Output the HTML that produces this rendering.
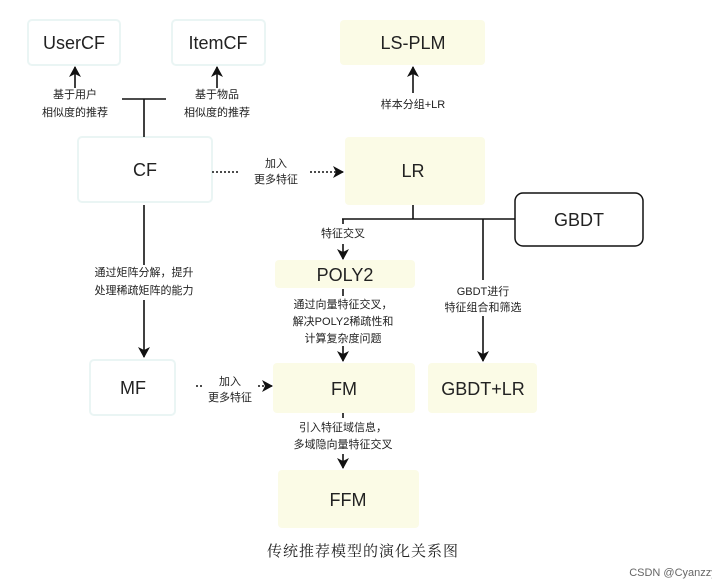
<!DOCTYPE html>
<html><head><meta charset="utf-8"><style>
body{margin:0;background:#fff;}
svg{display:block;font-family:"Liberation Sans","Noto Sans CJK SC",sans-serif;}
</style></head><body>
<svg width="712" height="588" viewBox="0 0 712 588" xmlns="http://www.w3.org/2000/svg">
<defs><marker id="a" markerWidth="12" markerHeight="12" refX="10" refY="6" orient="auto" markerUnits="userSpaceOnUse"><path d="M0,0 L11,6 L0,12 L3,6 Z" fill="#111"/></marker></defs>
<rect width="712" height="588" fill="#fff"/>
<g fill="#fff" stroke="#eaf5f4" stroke-width="2">
<rect x="28" y="20" width="92" height="45" rx="4"/>
<rect x="172" y="20" width="93" height="45" rx="4"/>
<rect x="78" y="137" width="134" height="65" rx="4"/>
<rect x="90" y="360" width="85" height="55" rx="4"/>
</g>
<g fill="#fbfbe6">
<rect x="340" y="20" width="145" height="45" rx="4"/>
<rect x="345" y="137" width="140" height="68" rx="4"/>
<rect x="275" y="260" width="140" height="28" rx="4"/>
<rect x="273" y="363" width="142" height="50" rx="4"/>
<rect x="428" y="363" width="109" height="50" rx="4"/>
<rect x="278" y="470" width="141" height="58" rx="4"/>
</g>
<rect x="515" y="193" width="128" height="53" rx="8" fill="#fff" stroke="#111" stroke-width="1.5"/>
<g font-size="18" fill="#222" text-anchor="middle">
<text x="74" y="49">UserCF</text>
<text x="218" y="49">ItemCF</text>
<text x="413" y="49">LS-PLM</text>
<text x="145" y="176">CF</text>
<text x="413" y="177">LR</text>
<text x="579" y="226">GBDT</text>
<text x="345" y="281">POLY2</text>
<text x="133" y="394">MF</text>
<text x="344" y="395">FM</text>
<text x="483" y="395">GBDT+LR</text>
<text x="348" y="506">FFM</text>
</g>
<g stroke="#111" stroke-width="1.6" fill="none">
<line x1="75" y1="88" x2="75" y2="67" marker-end="url(#a)"/>
<line x1="217" y1="88" x2="217" y2="67" marker-end="url(#a)"/>
<line x1="122" y1="99" x2="166" y2="99"/>
<line x1="144" y1="99" x2="144" y2="137"/>
<line x1="413" y1="93" x2="413" y2="67" marker-end="url(#a)"/>
<line x1="413" y1="205" x2="413" y2="219"/>
<line x1="342" y1="219" x2="515" y2="219"/>
<line x1="343" y1="219" x2="343" y2="224"/>
<line x1="343" y1="244" x2="343" y2="259" marker-end="url(#a)"/>
<line x1="483" y1="219" x2="483" y2="280"/>
<line x1="483" y1="316" x2="483" y2="361" marker-end="url(#a)"/>
<line x1="144" y1="205" x2="144" y2="265"/>
<line x1="144" y1="300" x2="144" y2="357" marker-end="url(#a)"/>
<line x1="343" y1="289" x2="343" y2="296"/>
<line x1="343" y1="346" x2="343" y2="361" marker-end="url(#a)"/>
<line x1="343" y1="413" x2="343" y2="418"/>
<line x1="343" y1="454" x2="343" y2="468" marker-end="url(#a)"/>
<line x1="212" y1="172" x2="240" y2="172" stroke-dasharray="2,2"/>
<line x1="310" y1="172" x2="343" y2="172" stroke-dasharray="2,2" marker-end="url(#a)"/>
<line x1="196" y1="386" x2="202" y2="386" stroke-dasharray="2,2"/>
<line x1="258" y1="386" x2="272" y2="386" stroke-dasharray="2,2" marker-end="url(#a)"/>
</g>
<g font-size="11" fill="#222" text-anchor="middle">
<text x="75" y="98">基于用户</text><text x="75" y="116">相似度的推荐</text>
<text x="217" y="98">基于物品</text><text x="217" y="116">相似度的推荐</text>
<text x="413" y="108">样本分组+LR</text>
<text x="276" y="167">加入</text><text x="276" y="183">更多特征</text>
<text x="343" y="237">特征交叉</text>
<text x="483" y="295">GBDT进行</text><text x="483" y="311">特征组合和筛选</text>
<text x="144" y="276">通过矩阵分解，提升</text><text x="144" y="294">处理稀疏矩阵的能力</text>
<text x="343" y="308">通过向量特征交叉，</text><text x="343" y="325">解决POLY2稀疏性和</text><text x="343" y="342">计算复杂度问题</text>
<text x="230" y="385">加入</text><text x="230" y="401">更多特征</text>
<text x="343" y="431">引入特征域信息，</text><text x="343" y="448">多域隐向量特征交叉</text>
</g>
<text x="363" y="556" font-size="15" fill="#222" text-anchor="middle" font-family="'Noto Serif CJK SC',serif" letter-spacing="1">传统推荐模型的演化关系图</text>
<text x="673" y="576" font-size="11" fill="#666" text-anchor="middle">CSDN @Cyanzzy</text>
</svg>
</body></html>
